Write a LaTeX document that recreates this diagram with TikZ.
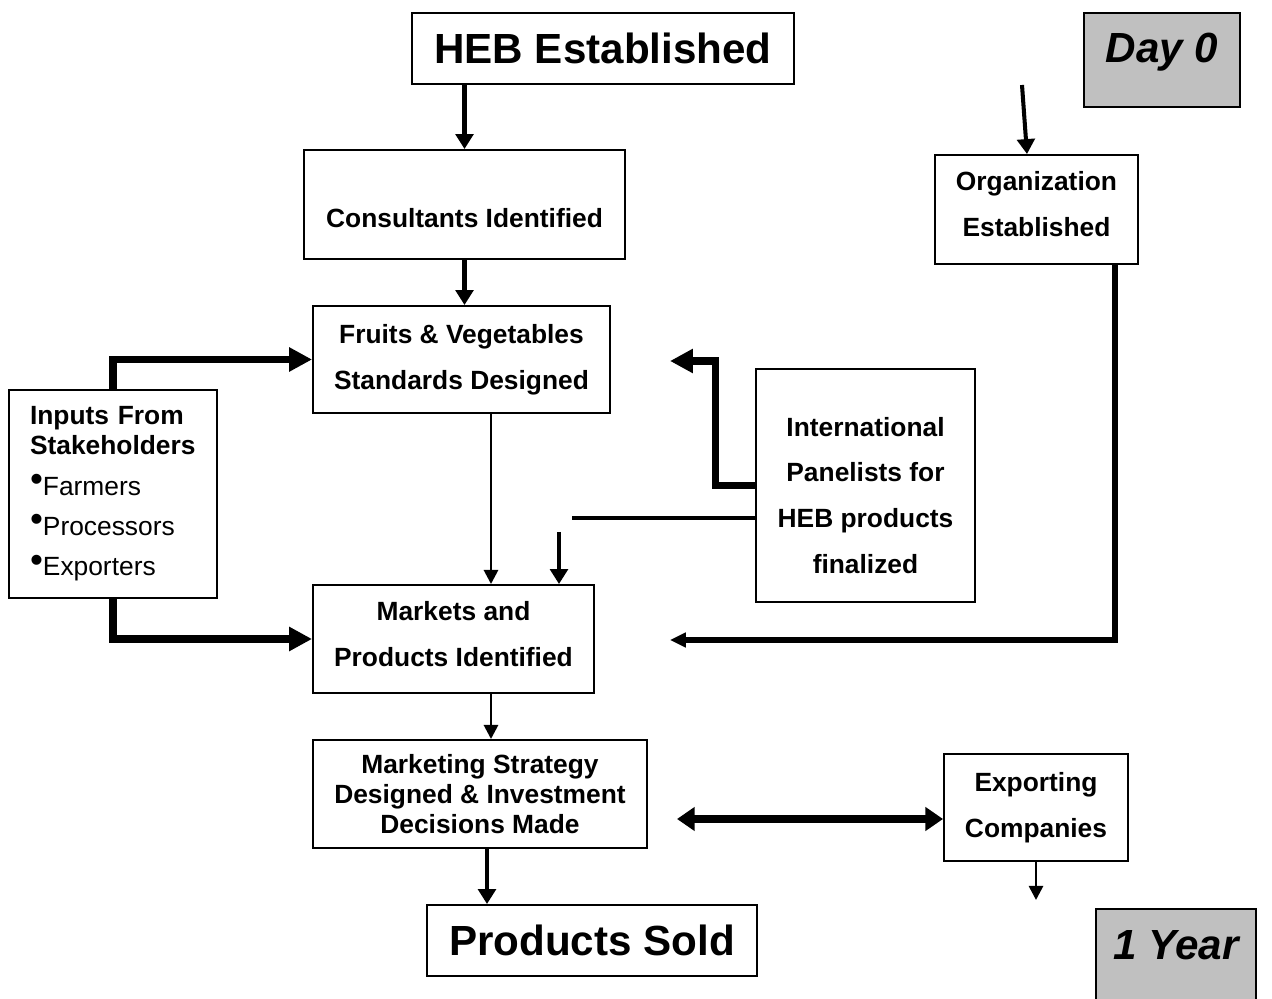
\documentclass[tikz,border=0pt]{standalone}
\usepackage{fontspec}
\setmainfont{Liberation Sans}
\usetikzlibrary{arrows.meta,positioning,calc}
\definecolor{slate}{RGB}{192,192,192}
\newcommand\bulletmark{\raisebox{2.2pt}{\fontsize{21}{21}\selectfont\textbullet}}

\begin{document}
\begin{tikzpicture}[x=0.02cm,y=-0.02cm,
  box/.style={draw,line width=1.1pt,inner sep=0pt,align=center,font=\bfseries\fontsize{15}{26}\selectfont},
  bigbox/.style={box,font=\bfseries\fontsize{24}{29}\selectfont},
  stamp/.style={box,fill=slate,font=\bfseries\itshape\fontsize{24}{29}\selectfont},
  link/.style={line width=2.3pt,-{Triangle[length=8.5pt,width=10pt]}},
  slim/.style={line width=1.5pt,-{Triangle[length=8pt,width=8pt]}},
  heavy/.style={line width=4pt,-{Triangle[length=13pt,width=13pt]}}]
  \useasboundingbox (0,0) rectangle (1272,999);
  % time markers
  \node[stamp,minimum width=3.12cm,text height=1cm,text depth=0.88cm] (day0) at (1162,60) {Day 0};
  \node[stamp,minimum width=3.2cm,text height=1.02cm,text depth=1cm] (year1) at (1176,959.5) {1 Year};
  % main column
  \node[bigbox,minimum width=7.64cm,minimum height=1.42cm] (heb) at (603,48.5) {HEB Established};
  \node[box,minimum width=6.42cm,text height=1.56cm,text depth=0.62cm] (cons) at (464.5,204.5) {Consultants Identified};
  \node[box,minimum width=5.94cm,minimum height=2.14cm] (fruits) at (461.5,359.5) {Fruits \& Vegetables\\Standards Designed};
  \node[box,minimum width=5.62cm,minimum height=2.16cm] (mkts) at (453.5,639) {Markets and\\Products Identified\rule[-6pt]{0pt}{6pt}};
  \node[box,minimum width=6.68cm,minimum height=2.16cm,font=\bfseries\fontsize{15}{17}\selectfont] (strat) at (480,794) {Marketing Strategy\\Designed \& Investment\\Decisions Made};
  \node[bigbox,minimum width=6.6cm,minimum height=1.42cm] (sold) at (592,940.5) {Products Sold};
  % side boxes
  \node[box,align=left,inner xsep=0.42cm,text width=3.32cm,minimum height=4.16cm,font=\fontsize{15}{17}\selectfont] (inp) at (113,494)
    {\textbf{Inputs From}\\\textbf{Stakeholders}\\[6pt]\bulletmark Farmers\\[6pt]\bulletmark Processors\\[6pt]\bulletmark Exporters};
  \node[box,minimum width=4.38cm,minimum height=4.66cm] (intl) at (865.5,485.5) {\rule{0pt}{22pt}International\\Panelists for\\HEB products\\finalized};
  \node[box,minimum width=4.06cm,minimum height=2.18cm] (org) at (1036.5,209.5) {Organization\\Established\rule[-6pt]{0pt}{6pt}};
  \node[box,minimum width=3.68cm,minimum height=2.14cm] (exp) at (1036,807.5) {Exporting\\Companies};
  % loose ends
  \coordinate (orgin) at (1022,85);
  \coordinate (pnl) at (670,361);
  \coordinate (cut) at (572,518);
  \coordinate (drop) at (559,532);
  \coordinate (orgout) at (670,640);
  \coordinate (expin) at (677,819);
  \coordinate (expout) at (1036,900);
  % arrows
  \draw[link] (cons.north |- heb.south) -- (cons.north);
  \draw[link] (cons.south) -- (cons.south |- fruits.north);
  \foreach \a/\b/\dx/\s in {fruits/mkts/0.59/slim,mkts/strat/0.75/slim,strat/sold/0.14/link}{
    \draw[\s] ([xshift=\dx cm]\a.south) -- ([xshift=\dx cm]\a.south |- \b.north);
  }
  \draw[heavy] (inp.north) |- (fruits.west);
  \draw[heavy] (inp.south) |- (mkts.west);
  \draw[heavy] (intl.west) -- ++(-40,0) |- (pnl);
  \draw[line width=2.3pt] (cut -| intl.west) -- (cut);
  \draw[link] (drop) -- (drop |- mkts.north);
  \draw[link] (orgin) -- ([xshift=-0.19cm]org.north);
  \draw[line width=3pt,-{Triangle[length=9pt,width=8pt]}] ([xshift=1.57cm]org.south) |- (orgout);
  \draw[line width=4pt,{Triangle[length=10pt,width=13pt]}-{Triangle[length=10pt,width=13pt]}] (expin) -- (expin -| exp.west);
  \draw[slim] (exp.south) -- (expout);
\end{tikzpicture}
\end{document}
